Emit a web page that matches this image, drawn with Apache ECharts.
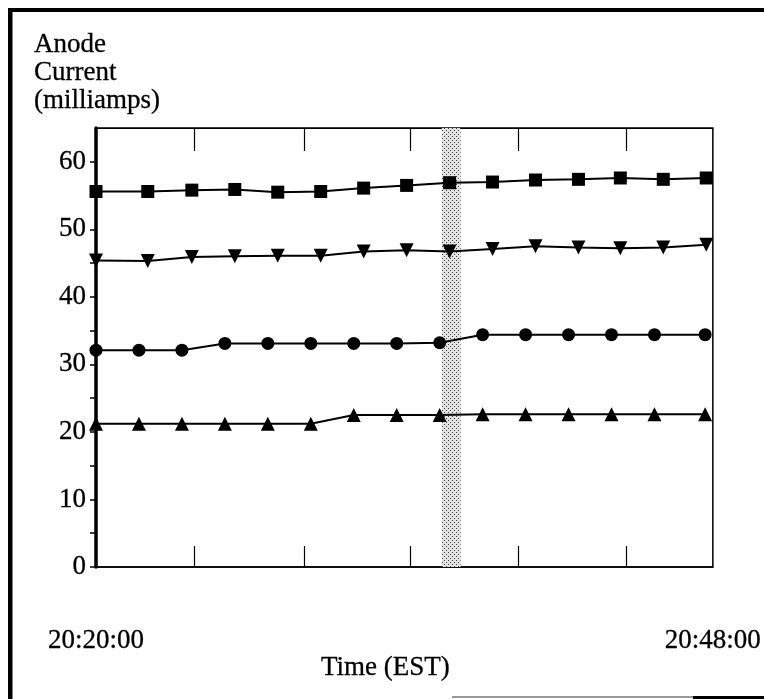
<!DOCTYPE html>
<html>
<head>
<meta charset="utf-8">
<title>Anode Current</title>
<script src="https://cdn.jsdelivr.net/npm/echarts@6/dist/echarts.min.js"></script>
<style>
  html, body { margin: 0; padding: 0; background: #fff; }
  #chart { width: 764px; height: 699px; }
</style>
</head>
<body>
<div id="chart"></div>
<script>
// minutes after 20:20:00 -- two sampling grids seen in the picture
var timesA = [0, 2.35, 4.35, 6.3, 8.25, 10.2, 12.15, 14.1, 16.05, 18.0, 19.95, 21.9, 23.8, 25.75, 27.7];
var timesB = [0, 1.95, 3.9, 5.85, 7.8, 9.75, 11.7, 13.65, 15.6, 17.55, 19.5, 21.45, 23.4, 25.35, 27.65];

// anode current, milliamps
var squares      = [55.6, 55.6, 55.8, 55.9, 55.5, 55.6, 56.1, 56.5, 56.9, 57.0, 57.3, 57.4, 57.6, 57.4, 57.6];
var downTriangle = [45.4, 45.3, 45.9, 46.0, 46.1, 46.1, 46.7, 46.9, 46.7, 47.1, 47.5, 47.3, 47.2, 47.3, 47.7];
var circles      = [32.1, 32.1, 32.1, 33.1, 33.1, 33.1, 33.1, 33.1, 33.2, 34.4, 34.4, 34.4, 34.4, 34.4, 34.4];
var upTriangle   = [21.2, 21.2, 21.2, 21.2, 21.2, 21.2, 22.5, 22.5, 22.5, 22.6, 22.6, 22.6, 22.6, 22.6, 22.6];

var shadeBand = [15.7, 16.55];
var xTickValues = [4.45, 9.45, 14.25, 19.15, 24.05];
var xLabelValues = [0, 28];
var xLabelText = ['20:20:00', '20:48:00'];
var yTickValues = [0, 5, 10, 15, 20, 25, 30, 35, 40, 45, 50, 55, 60];
var yLabelValues = [0, 10, 20, 30, 40, 50, 60];

function pairs(ts, vs) {
    return ts.map(function (t, i) { return [t, vs[i]]; });
}

// stipple pattern for the shaded band
var pat = document.createElement('canvas');
pat.width = 4; pat.height = 4;
var pctx = pat.getContext('2d');
pctx.fillStyle = '#e4e4e4';
pctx.fillRect(0, 0, 4, 4);
pctx.fillStyle = '#3a3a3a';
pctx.fillRect(0, 0, 1, 1);
pctx.fillRect(2, 2, 1, 1);

var font = 'Liberation Serif';
var txt = { fontFamily: font, fontSize: 27, fontWeight: 'normal', color: '#000', textBorderColor: '#000', textBorderWidth: 0.3 };
var chart = echarts.init(document.getElementById('chart'));

function lineSeries(name, data, symbol, size, rotate, extra) {
    var s = {
        name: name,
        type: 'line',
        data: data,
        symbol: symbol,
        symbolSize: size,
        symbolRotate: rotate,
        showAllSymbol: true,
        animation: false,
        clip: false,
        lineStyle: { color: '#000', width: 2 },
        itemStyle: { color: '#000', borderWidth: 0 },
        z: 3
    };
    if (extra) { for (var k in extra) s[k] = extra[k]; }
    return s;
}

var option = {
    backgroundColor: '#fff',
    animation: false,
    title: [
        {
            text: 'Anode\nCurrent\n(milliamps)',
            left: 34, top: 31, padding: 0,
            textStyle: Object.assign({ lineHeight: 28 }, txt)
        },
        {
            text: 'Time (EST)',
            left: 321, top: 654, padding: 0,
            textStyle: Object.assign({ lineHeight: 28 }, txt)
        }
    ],
    grid: {
        left: 96, right: 50, top: 128, bottom: 132,
        show: true, borderColor: '#000', borderWidth: 1.5, backgroundColor: 'transparent'
    },
    xAxis: [
        {
            type: 'value', min: 0, max: 28, position: 'bottom',
            axisLine: { lineStyle: { color: '#000', width: 1.5 } },
            axisTick: { inside: true, length: 21, customValues: xTickValues, lineStyle: { color: '#000', width: 1.2 } },
            axisLabel: Object.assign({
                customValues: xLabelValues,
                margin: 60,
                formatter: function (v) { return xLabelText[xLabelValues.indexOf(v)]; }
            }, txt),
            splitLine: { show: false }
        },
        {
            type: 'value', min: 0, max: 28, position: 'top',
            axisLine: { lineStyle: { color: '#000', width: 1 } },
            axisTick: { inside: true, length: 23, customValues: xTickValues, lineStyle: { color: '#000', width: 1.2 } },
            axisLabel: { show: false },
            splitLine: { show: false }
        }
    ],
    yAxis: {
        type: 'value', min: 0, max: 65,
        axisLine: { show: true, lineStyle: { color: '#000', width: 3.5 } },
        axisTick: { show: true, length: 6, customValues: yTickValues, lineStyle: { color: '#000', width: 1.5 } },
        axisLabel: Object.assign({ customValues: yLabelValues, margin: 10 }, txt),
        splitLine: { show: false }
    },
    series: [
        lineSeries('squares', pairs(timesA, squares), 'rect', 13, 0, {
            markArea: {
                silent: true,
                itemStyle: { color: { image: pat, repeat: 'repeat' }, borderWidth: 0 },
                data: [[{ xAxis: shadeBand[0] }, { xAxis: shadeBand[1] }]]
            }
        }),
        lineSeries('downTriangles', pairs(timesA, downTriangle), 'triangle', 14, 180),
        lineSeries('circles', pairs(timesB, circles), 'circle', 13, 0),
        lineSeries('upTriangles', pairs(timesB, upTriangle), 'triangle', 14, 0)
    ],
    graphic: [
        // scanned outer frame
        { type: 'rect', shape: { x: 9, y: 8, width: 755, height: 4 }, style: { fill: '#000' }, silent: true },
        { type: 'rect', shape: { x: 8, y: 8, width: 4.5, height: 691 }, style: { fill: '#000' }, silent: true },
        { type: 'rect', shape: { x: 452, y: 696, width: 241, height: 2 }, style: { fill: '#999' }, silent: true },
        { type: 'rect', shape: { x: 693, y: 696, width: 71, height: 3 }, style: { fill: '#000' }, silent: true }
    ]
};

chart.setOption(option);
</script>
</body>
</html>
